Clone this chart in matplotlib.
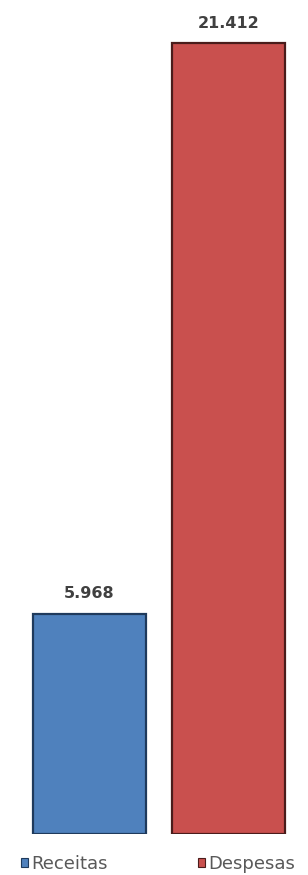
import matplotlib.pyplot as plt
from matplotlib.patches import Patch

categorias = ['Receitas', 'Despesas']
valores = [5968, 21412]
rotulos = ['5.968', '21.412']
cores = ['#4F81BD', '#C9504E']
bordas = ['#1F3A5C', '#4A1C1B']

fig = plt.figure(figsize=(3.08, 8.75), dpi=100)
# eixo ocupa quase toda a figura, base das barras perto do rodape
ax = fig.add_axes([0, 41 / 875, 1, 834 / 875])

x = list(range(len(categorias)))
ax.bar(x, valores, width=0.813, color=cores, edgecolor=bordas, linewidth=1.6)

for xi, v, r in zip(x, valores, rotulos):
    ax.annotate(r, (xi, v), xytext=(0, 9), textcoords='offset points',
                ha='center', va='bottom', fontsize=11.5, fontweight='bold',
                color='#404040', family='DejaVu Sans')

ax.set_xlim(-89.5 / 139, (308 - 89.5) / 139)
ax.set_ylim(0, 834 / (791 / 21412))
ax.axis('off')

handles = [Patch(facecolor=c, edgecolor=e, linewidth=0.8) for c, e in zip(cores, bordas)]
fig.legend(handles, categorias, loc='lower left', bbox_to_anchor=(5 / 308, -0.016),
           ncol=2, frameon=False, handlelength=0.4, handleheight=0.4,
           handletextpad=0.15, columnspacing=5.0,
           prop={'family': 'DejaVu Sans', 'size': 13}, labelcolor='#595959')

plt.savefig('out.png', dpi=100)
